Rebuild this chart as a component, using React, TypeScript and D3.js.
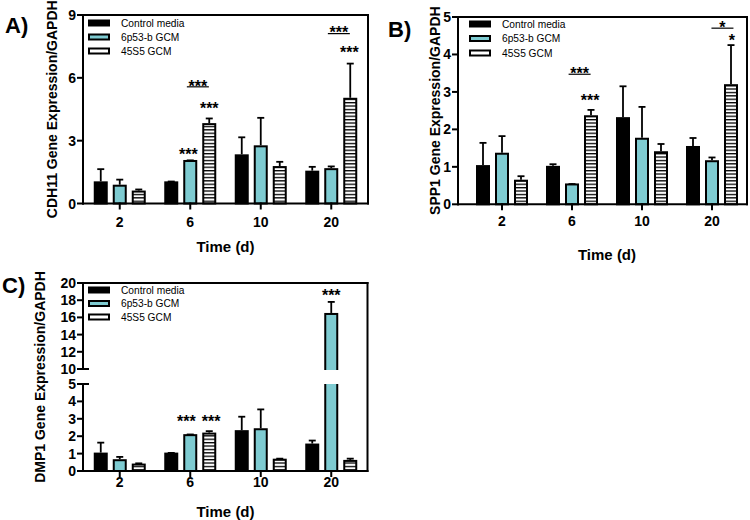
import React from 'react';
import * as d3 from 'd3';

const FONT = "'Liberation Sans', Arial, Helvetica, sans-serif";
const CYAN = '#7ecbd1';

const days = ['2', '6', '10', '20'];
const seriesNames = ['Control media', '6p53-b GCM', '45S5 GCM'];
const xTitle = 'Time (d)';

// CDH11 (panel A)
const cdh11Control = [1.01, 1.01, 2.3, 1.52];
const cdh11G6p53 = [0.85, 2.03, 2.73, 1.64];
const cdh11G45S5 = [0.57, 3.79, 1.74, 5.0];
const cdh11ControlErr = [0.63, 0.04, 0.86, 0.23];
const cdh11G6p53Err = [0.29, 0.03, 1.36, 0.13];
const cdh11G45S5Err = [0.1, 0.27, 0.25, 1.68];
const cdh11Ticks = [0, 3, 6, 9];

// SPP1 (panel B)
const spp1Control = [1.02, 1.0, 2.3, 1.53];
const spp1G6p53 = [1.35, 0.53, 1.75, 1.15];
const spp1G45S5 = [0.63, 2.35, 1.39, 3.18];
const spp1ControlErr = [0.62, 0.07, 0.85, 0.24];
const spp1G6p53Err = [0.47, 0.01, 0.85, 0.1];
const spp1G45S5Err = [0.12, 0.17, 0.22, 1.07];
const spp1Ticks = [0, 1, 2, 3, 4, 5];

// DMP1 (panel C)
const dmp1Control = [1.0, 1.0, 2.29, 1.52];
const dmp1G6p53 = [0.62, 2.06, 2.4, 16.4];
const dmp1G45S5 = [0.37, 2.15, 0.65, 0.58];
const dmp1ControlErr = [0.63, 0.04, 0.83, 0.23];
const dmp1G6p53Err = [0.19, 0.04, 1.14, 1.4];
const dmp1G45S5Err = [0.07, 0.14, 0.06, 0.13];
const dmp1LowerTicks = [0, 1, 2, 3, 4, 5];
const dmp1UpperTicks = [10, 12, 14, 16, 18, 20];

type Annot = { day: string; pos: number; text: string; value: number; underline?: boolean };

const cdh11Annots: Annot[] = [
  { day: '6', pos: 0.9, text: '***', value: 2.53 },
  { day: '6', pos: 2, text: '***', value: 4.73 },
  { day: '6', pos: 1.4, text: '***', value: 5.8, underline: true },
  { day: '20', pos: 1.4, text: '***', value: 8.34, underline: true },
  { day: '20', pos: 1.95, text: '***', value: 7.38 },
];
const spp1Annots: Annot[] = [
  { day: '6', pos: 1.4, text: '***', value: 3.6, underline: true },
  { day: '6', pos: 1.95, text: '***', value: 2.88 },
  { day: '20', pos: 1.55, text: '*', value: 4.83, underline: true },
  { day: '20', pos: 2.05, text: '*', value: 4.49 },
];
const dmp1Annots: Annot[] = [
  { day: '6', pos: 0.8, text: '***', value: 3.1 },
  { day: '6', pos: 2.1, text: '***', value: 3.1 },
  { day: '20', pos: 1, text: '***', value: 19.0 },
];

type Part = { domain: [number, number]; range: [number, number]; ticks: number[] };

function makeY(parts: Part[]) {
  const scales = parts.map((p) => d3.scaleLinear().domain(p.domain).range(p.range));
  return (v: number) => {
    for (let i = 0; i < parts.length; i++) {
      const [a, b] = parts[i].domain;
      if (v >= a && v <= b) return scales[i](v);
      if (i + 1 < parts.length && v > b && v < parts[i + 1].domain[0]) {
        return d3
          .scaleLinear()
          .domain([b, parts[i + 1].domain[0]])
          .range([parts[i].range[1], parts[i + 1].range[0]])(v);
      }
    }
    return scales[scales.length - 1](v);
  };
}

type PanelProps = {
  tag: string;
  tagX: number;
  tagY: number;
  yTitle: string;
  yTitleX: number;
  left: number;
  right: number;
  bandRange: [number, number];
  parts: Part[];
  means: number[][];
  errs: number[][];
  annots: Annot[];
  xTickY: number;
  xTitleY: number;
  legendX: number;
  legendY: number;
  legendStep: number;
};

const fills = ['#000', CYAN, 'url(#hatch)'];

function Panel(p: PanelProps) {
  const y = makeY(p.parts);
  const bottom = p.parts[0].range[0];
  const top = p.parts[p.parts.length - 1].range[1];
  const xBand = d3.scaleBand<string>().domain(days).range(p.bandRange);
  const xSub = d3.scaleLinear().domain([0, 2]).range([-19, 19]);
  const cx = (day: string, pos: number) => (xBand(day) as number) + xBand.bandwidth() / 2 + xSub(pos);
  const y0 = y(0);
  const elems: React.ReactNode[] = [];

  p.means.forEach((vals, si) => {
    vals.forEach((v, di) => {
      const x = cx(days[di], si);
      elems.push(
        <rect key={`b${si}-${di}`} x={x - 6} y={y(v)} width={12} height={y0 - y(v)}
          fill={fills[si]} stroke="#000" strokeWidth={2} />
      );
    });
  });
  if (p.parts.length > 1) {
    const gTop = p.parts[1].range[0];
    const gBot = p.parts[0].range[1];
    p.means.forEach((vals, si) => {
      vals.forEach((v, di) => {
        if (v > p.parts[1].domain[0]) {
          const x = cx(days[di], si);
          elems.push(
            <rect key={`g${si}-${di}`} x={x - 9} y={gTop + 1} width={18} height={gBot - gTop - 1} fill="#fff" />
          );
        }
      });
    });
  }
  p.means.forEach((vals, si) => {
    vals.forEach((v, di) => {
      const x = cx(days[di], si);
      const e = p.errs[si][di];
      const yt = y(v + e);
      elems.push(
        <g key={`e${si}-${di}`} stroke="#000" strokeWidth={1.8}>
          <line x1={x} x2={x} y1={y(v) - 1} y2={yt} />
          <line x1={x - 3.5} x2={x + 3.5} y1={yt} y2={yt} />
        </g>
      );
    });
  });

  const frame: React.ReactNode[] = [];
  frame.push(<line key="top" x1={p.left} x2={p.right} y1={top} y2={top} />);
  frame.push(<line key="right" x1={p.right} x2={p.right} y1={top} y2={bottom} />);
  frame.push(<line key="bottom" x1={p.left} x2={p.right} y1={bottom} y2={bottom} />);
  p.parts.forEach((part, i) => {
    frame.push(<line key={`ax${i}`} x1={p.left} x2={p.left} y1={part.range[0]} y2={part.range[1]} />);
    part.ticks.forEach((t) => {
      frame.push(<line key={`t${i}-${t}`} x1={p.left - 5} x2={p.left} y1={y(t)} y2={y(t)} />);
    });
    if (p.parts.length > 1) {
      if (i === 0) frame.push(<line key={`c${i}`} x1={p.left - 5} x2={p.left + 5} y1={part.range[1]} y2={part.range[1]} />);
      if (i === 1) frame.push(<line key={`c${i}`} x1={p.left} x2={p.left + 5} y1={part.range[0]} y2={part.range[0]} />);
    }
  });
  days.forEach((d) => {
    const x = cx(d, 1);
    frame.push(<line key={`xt${d}`} x1={x} x2={x} y1={bottom} y2={bottom + 5} />);
  });

  const tickLabels: React.ReactNode[] = [];
  p.parts.forEach((part, i) =>
    part.ticks.forEach((t) =>
      tickLabels.push(
        <text key={`yl${i}-${t}`} x={p.left - 7} y={y(t) + 5} textAnchor="end" fontSize={14} fontWeight="bold">
          {t}
        </text>
      )
    )
  );
  days.forEach((d) =>
    tickLabels.push(
      <text key={`xl${d}`} x={cx(d, 1)} y={p.xTickY} textAnchor="middle" fontSize={14} fontWeight="bold">
        {d}
      </text>
    )
  );

  const legend = seriesNames.map((name, i) => {
    const cy = p.legendY + i * p.legendStep;
    return (
      <g key={`lg${i}`}>
        <rect x={p.legendX + 1} y={cy - 2.5} width={20} height={5} fill={i === 0 ? '#000' : i === 1 ? CYAN : '#fff'}
          stroke="#000" strokeWidth={2} />
        <text x={p.legendX + 33} y={cy + 3.6} fontSize={10.2}>{name}</text>
      </g>
    );
  });

  const annots = p.annots.map((a, i) => {
    const x = cx(a.day, a.pos);
    const yc = y(a.value);
    return (
      <g key={`an${i}`}>
        <text x={x} y={yc + 9.5} textAnchor="middle" fontSize={16} fontWeight="bold">{a.text}</text>
        {a.underline ? <line x1={x - 11} x2={x + 11} y1={yc + 4.8} y2={yc + 4.8} stroke="#000" strokeWidth={1.2} /> : null}
      </g>
    );
  });

  const midX = (p.bandRange[0] + p.bandRange[1]) / 2;
  const midY = (top + bottom) / 2;

  return (
    <g>
      {elems}
      <g stroke="#000" strokeWidth={2} strokeLinecap="square">{frame}</g>
      {tickLabels}
      {legend}
      {annots}
      <text x={midX} y={p.xTitleY} textAnchor="middle" fontSize={15} fontWeight="bold">{xTitle}</text>
      <text transform={`translate(${p.yTitleX},${midY}) rotate(-90)`} textAnchor="middle" fontSize={14} fontWeight="bold">
        {p.yTitle}
      </text>
      <text x={p.tagX} y={p.tagY} fontSize={22} fontWeight="bold">{p.tag}</text>
    </g>
  );
}

export default function App() {
  return (
    <svg width={750} height={520} style={{ position: 'absolute', left: 0, top: 0, background: '#fff' }}
      fontFamily={FONT}>
      <defs>
        <pattern id="hatch" patternUnits="userSpaceOnUse" width={6} height={3.4}>
          <rect width={6} height={3.4} fill="#fff" />
          <rect width={6} height={1.3} fill="#000" />
        </pattern>
      </defs>
      <Panel
        tag="A)" tagX={5} tagY={33}
        yTitle="CDH11 Gene Expression/GAPDH" yTitleX={57}
        left={83} right={368} bandRange={[84.5, 366.5]}
        parts={[{ domain: [0, 9], range: [203.5, 15], ticks: cdh11Ticks }]}
        means={[cdh11Control, cdh11G6p53, cdh11G45S5]}
        errs={[cdh11ControlErr, cdh11G6p53Err, cdh11G45S5Err]}
        annots={cdh11Annots}
        xTickY={227} xTitleY={252}
        legendX={88} legendY={23} legendStep={14}
      />
      <Panel
        tag="B)" tagX={388} tagY={37}
        yTitle="SPP1 Gene Expression/GAPDH" yTitleX={440}
        left={458} right={747} bandRange={[467, 747]}
        parts={[{ domain: [0, 5], range: [204.3, 17], ticks: spp1Ticks }]}
        means={[spp1Control, spp1G6p53, spp1G45S5]}
        errs={[spp1ControlErr, spp1G6p53Err, spp1G45S5Err]}
        annots={spp1Annots}
        xTickY={226} xTitleY={260}
        legendX={469} legendY={24} legendStep={14.5}
      />
      <Panel
        tag="C)" tagX={2} tagY={293}
        yTitle="DMP1 Gene Expression/GAPDH" yTitleX={45}
        left={83} right={367.5} bandRange={[84.5, 366.5]}
        parts={[
          { domain: [0, 5], range: [471, 384], ticks: dmp1LowerTicks },
          { domain: [10, 20], range: [369, 283], ticks: dmp1UpperTicks },
        ]}
        means={[dmp1Control, dmp1G6p53, dmp1G45S5]}
        errs={[dmp1ControlErr, dmp1G6p53Err, dmp1G45S5Err]}
        annots={dmp1Annots}
        xTickY={487} xTitleY={517}
        legendX={88} legendY={290} legendStep={13.5}
      />
    </svg>
  );
}
